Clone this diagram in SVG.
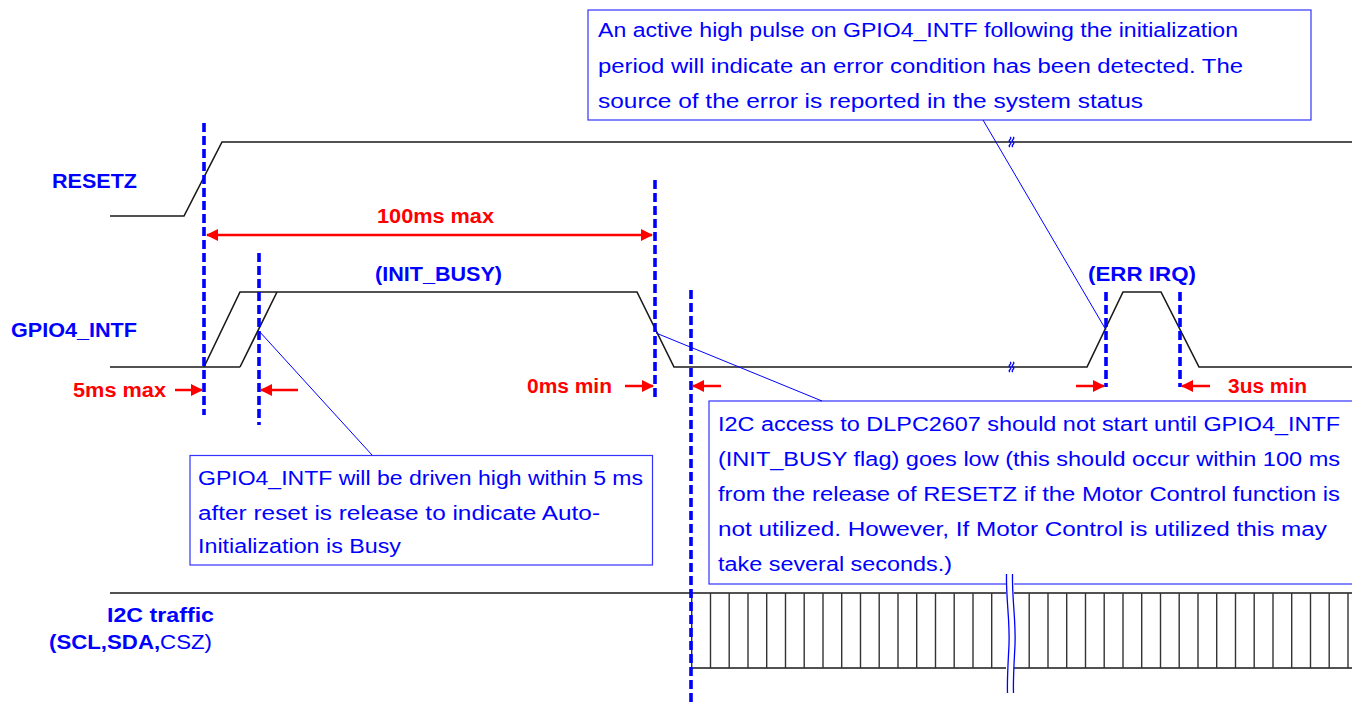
<svg xmlns="http://www.w3.org/2000/svg" width="1352" height="704" viewBox="0 0 1352 704">
<style>
.wave{fill:none;stroke:#1a1a1a;stroke-width:1.6}
.dash{fill:none;stroke:#0000ff;stroke-width:3.6;stroke-dasharray:9 4}
.lead{fill:none;stroke:#0000ff;stroke-width:1}
.box{fill:#fff;stroke:#3333ff;stroke-width:1.2}
.btxt{font-family:"Liberation Sans",Arial,sans-serif;font-size:20px;fill:#0000ff}
.lbl{font-family:"Liberation Sans",Arial,sans-serif;font-size:20px;font-weight:bold;fill:#0000ff}
.red{font-family:"Liberation Sans",Arial,sans-serif;font-size:20px;font-weight:bold;fill:#ff0000}
.arr{fill:none;stroke:#ff0000;stroke-width:2.5}
.brk{fill:none;stroke:#0000ff;stroke-width:1.3}
</style>
<defs>
<marker id="ah" viewBox="0 0 12 12" refX="11" refY="6" markerWidth="12" markerHeight="12" markerUnits="userSpaceOnUse" orient="auto-start-reverse">
<path d="M0,0 L12,6 L0,12 Z" fill="#ff0000"/>
</marker>
</defs>
<rect width="1352" height="704" fill="#fff"/>

<g id="signals">
<g id="resetz">
<text class="lbl" x="52" y="188" textLength="85" lengthAdjust="spacingAndGlyphs">RESETZ</text>
<path class="wave" d="M110,216 H184 L222,142 H1352"/>
<path class="brk" d="M1010,137 c3,1.5 -3,3.5 0,5 c3,1.5 -3,3.5 0,5 M1013,137 c3,1.5 -3,3.5 0,5 c3,1.5 -3,3.5 0,5"/>
</g>
<g id="gpio4">
<text class="lbl" x="11" y="337" textLength="126" lengthAdjust="spacingAndGlyphs">GPIO4_INTF</text>
<path class="wave" d="M110,367 H240 M204,367 L240,292 H637 L674,367 H1087 L1123,292 H1161 L1199,367 H1352 M240,367 L277,292"/>
<path class="brk" d="M1010,362 c3,1.5 -3,3.5 0,5 c3,1.5 -3,3.5 0,5 M1013,362 c3,1.5 -3,3.5 0,5 c3,1.5 -3,3.5 0,5"/>
<text class="lbl" x="375" y="281" textLength="127" lengthAdjust="spacingAndGlyphs">(INIT_BUSY)</text>
<text class="lbl" x="1088" y="281" textLength="108" lengthAdjust="spacingAndGlyphs">(ERR IRQ)</text>
</g>
<g id="i2c">
<text class="lbl" x="107" y="622" textLength="107" lengthAdjust="spacingAndGlyphs">I2C traffic</text>
<text x="49" y="649" textLength="163" lengthAdjust="spacingAndGlyphs" style="font-family:'Liberation Sans',Arial,sans-serif;font-size:21px;fill:#0000ff"><tspan font-weight="bold">(SCL,SDA,</tspan><tspan>CSZ)</tspan></text>
<path class="wave" d="M110,593 H1352 M691,668 H1352"/>
<path d="M691.7,593V668 M710.5,593V668 M729.2,593V668 M748,593V668 M766.7,593V668 M785.5,593V668 M804.2,593V668 M823,593V668 M841.7,593V668 M860.5,593V668 M879.2,593V668 M898,593V668 M916.7,593V668 M935.5,593V668 M954.2,593V668 M973,593V668 M991.7,593V668 M1029.2,593V668 M1048,593V668 M1066.7,593V668 M1085.5,593V668 M1104.2,593V668 M1123,593V668 M1141.7,593V668 M1160.5,593V668 M1179.2,593V668 M1198,593V668 M1216.7,593V668 M1235.5,593V668 M1254.2,593V668 M1273,593V668 M1291.7,593V668 M1310.5,593V668 M1329.2,593V668 M1348,593V668" fill="none" stroke="#333" stroke-width="1.4"/>
</g>
</g>

<g id="callout-err">
<rect class="box" x="588" y="10" width="723" height="110"/>
<text class="btxt" x="598" y="37" textLength="640" lengthAdjust="spacingAndGlyphs">An active high pulse on GPIO4_INTF following the initialization</text>
<text class="btxt" x="598" y="73" textLength="645" lengthAdjust="spacingAndGlyphs">period will indicate an error condition has been detected. The</text>
<text class="btxt" x="598" y="108" textLength="545" lengthAdjust="spacingAndGlyphs">source of the error is reported in the system status</text>
</g>

<g id="callout-busy">
<rect class="box" x="190" y="455.5" width="462.5" height="109.5"/>
<text class="btxt" x="198" y="485" textLength="445" lengthAdjust="spacingAndGlyphs">GPIO4_INTF will be driven high within 5 ms</text>
<text class="btxt" x="198" y="520" textLength="402" lengthAdjust="spacingAndGlyphs">after reset is release to indicate Auto-</text>
<text class="btxt" x="198" y="553" textLength="203" lengthAdjust="spacingAndGlyphs">Initialization is Busy</text>
</g>

<g id="callout-i2c">
<rect class="box" x="709" y="401" width="650" height="183"/>
<text class="btxt" x="718" y="431" textLength="622" lengthAdjust="spacingAndGlyphs">I2C access to DLPC2607 should not start until GPIO4_INTF</text>
<text class="btxt" x="718" y="466" textLength="622" lengthAdjust="spacingAndGlyphs">(INIT_BUSY flag) goes low (this should occur within 100 ms</text>
<text class="btxt" x="718" y="501" textLength="622" lengthAdjust="spacingAndGlyphs">from the release of RESETZ if the Motor Control function is</text>
<text class="btxt" x="718" y="536" textLength="609" lengthAdjust="spacingAndGlyphs">not utilized.  However, If Motor Control is utilized this may</text>
<text class="btxt" x="718" y="571" textLength="234" lengthAdjust="spacingAndGlyphs">take several seconds.)</text>
</g>

<g id="break-i2c">
<rect x="1006" y="578" width="8" height="112" fill="#fff"/>
<path class="brk" d="M1006.5,574 C1006,600 1010,620 1009,645 C1008,665 1007,680 1007.5,693 M1012.5,574 C1012,600 1016,620 1015,645 C1014,665 1013,680 1013.5,693"/>
</g>

<g id="connectors">
<path class="lead" d="M259,331 L372,455 M656,333 L822,401 M983,120 L1106,330"/>
<path class="dash" d="M204,123 V415"/>
<path class="dash" d="M259,253 V425"/>
<path class="dash" d="M655,180 V400"/>
<path class="dash" d="M691,290 V704"/>
<path class="dash" d="M1106,292 V387"/>
<path class="dash" d="M1180,292 V387"/>
<path class="arr" d="M207,235 H652" marker-start="url(#ah)" marker-end="url(#ah)"/>
<path class="arr" d="M175,390 H202" marker-end="url(#ah)"/>
<path class="arr" d="M298,390 H261" marker-end="url(#ah)"/>
<path class="arr" d="M625,386 H653" marker-end="url(#ah)"/>
<path class="arr" d="M721,386 H693" marker-end="url(#ah)"/>
<path class="arr" d="M1076,386 H1104" marker-end="url(#ah)"/>
<path class="arr" d="M1210,386 H1182" marker-end="url(#ah)"/>
</g>

<g id="timing-labels">
<text class="red" x="377" y="223" textLength="117" lengthAdjust="spacingAndGlyphs">100ms max</text>
<text class="red" x="73" y="397" textLength="93" lengthAdjust="spacingAndGlyphs">5ms max</text>
<text class="red" x="527" y="393" textLength="85" lengthAdjust="spacingAndGlyphs">0ms min</text>
<text class="red" x="1228" y="393" textLength="79" lengthAdjust="spacingAndGlyphs">3us min</text>
</g>
</svg>
